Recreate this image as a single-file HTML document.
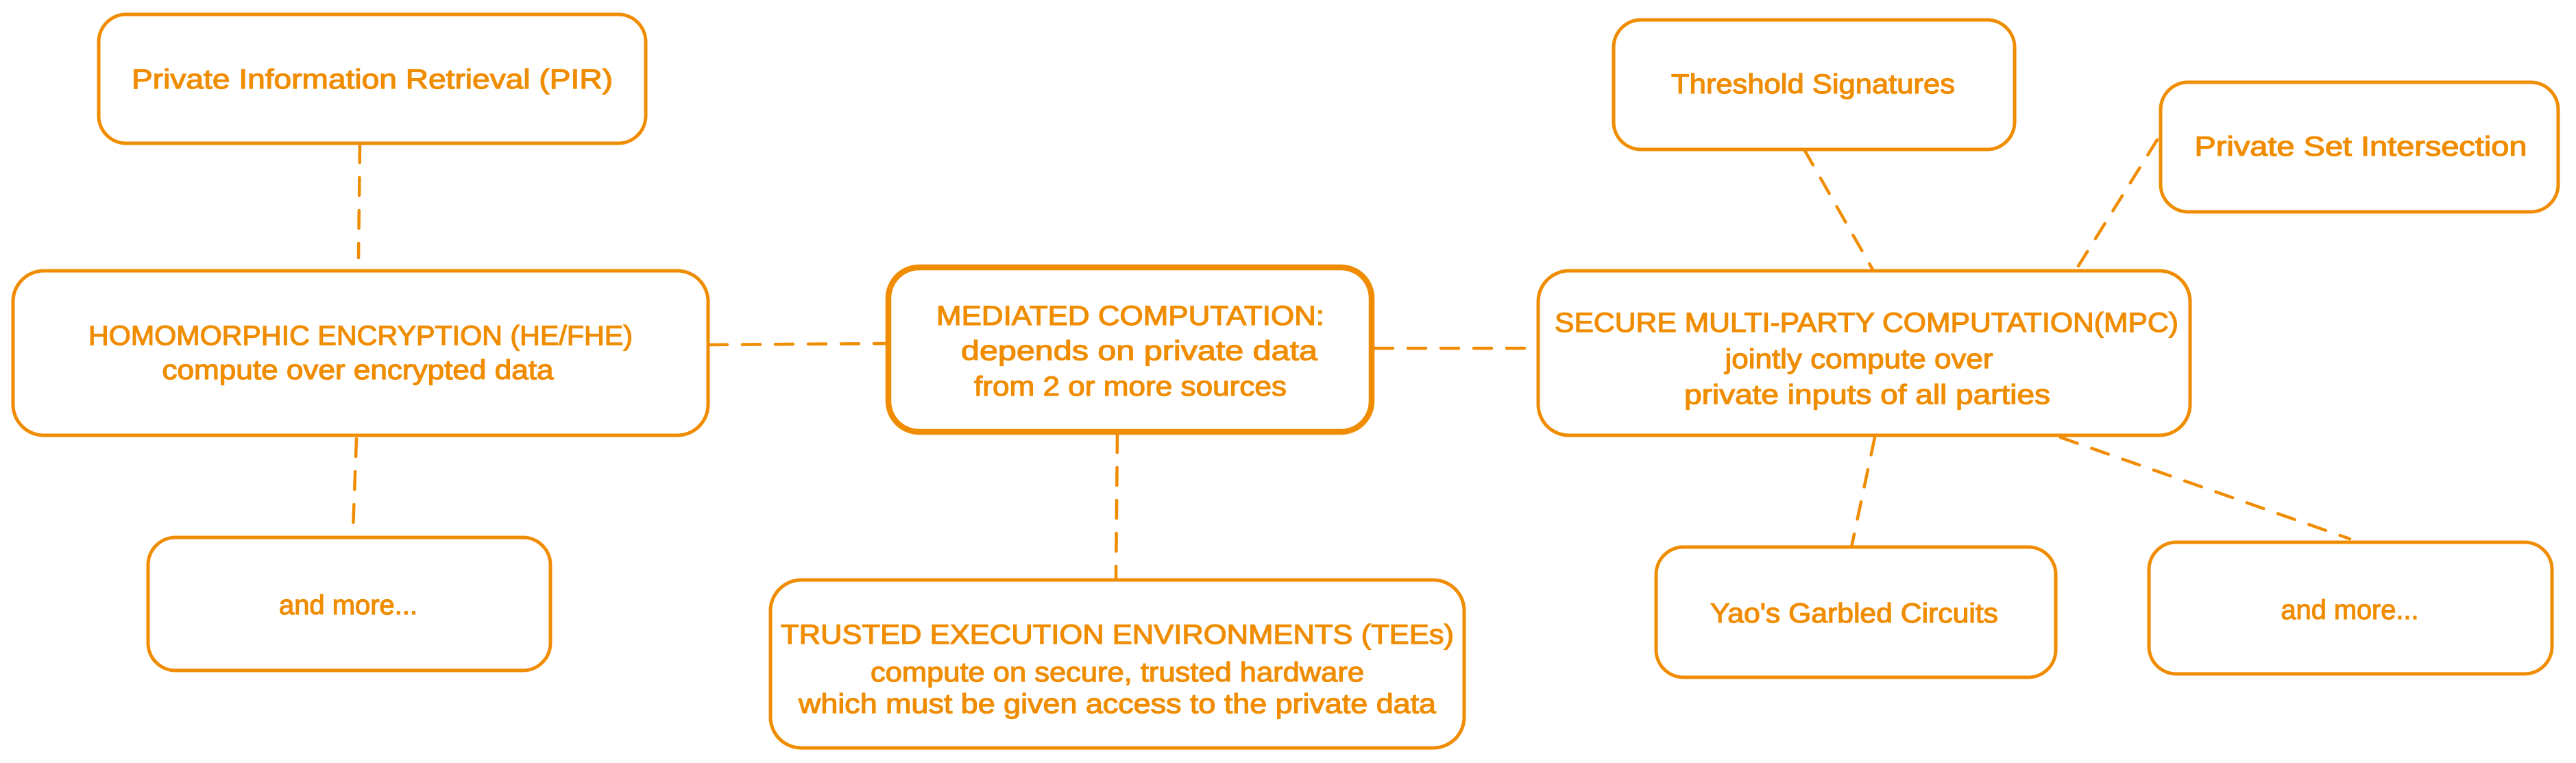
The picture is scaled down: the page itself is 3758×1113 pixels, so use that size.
<!DOCTYPE html>
<html><head><meta charset="utf-8"><style>html,body{margin:0;padding:0;background:#fff}svg{display:block}</style></head>
<body>
<svg width="3758" height="1113" viewBox="0 0 3758 1113" xmlns="http://www.w3.org/2000/svg">
<rect width="3758" height="1113" fill="#fff"/>
<g fill="none" stroke="#f08c00" stroke-width="5" stroke-linecap="round">
<rect x="144" y="21" width="798" height="188" rx="40"/>
<rect x="19" y="395" width="1014" height="240" rx="45"/>
<rect x="216" y="784" width="587" height="194" rx="40"/>
<rect x="1124" y="846" width="1012" height="245" rx="45"/>
<rect x="2354" y="29" width="585" height="189" rx="40"/>
<rect x="3152" y="120" width="580" height="189" rx="40"/>
<rect x="2244" y="395" width="951" height="240" rx="45"/>
<rect x="2416" y="798" width="583" height="190" rx="40"/>
<rect x="3135" y="791" width="588" height="192" rx="40"/>
<rect x="1296" y="390" width="705" height="240" rx="45" stroke-width="8.5"/>
<g stroke-dasharray="26 22" stroke-width="4.5">
<line x1="525" y1="211" x2="523" y2="376"/>
<line x1="1035" y1="503" x2="1294" y2="501"/>
<line x1="520" y1="640" x2="515" y2="772"/>
<line x1="2006" y1="508" x2="2244" y2="508"/>
<line x1="1630" y1="634" x2="1628" y2="846"/>
<line x1="2632" y1="218" x2="2733" y2="395"/>
<line x1="3147" y1="204" x2="3032" y2="388"/>
<line x1="2735" y1="638" x2="2701" y2="798"/>
<line x1="3006" y1="638" x2="3428" y2="786"/>
</g>
</g>
<g fill="#f08c00" stroke="#f08c00" stroke-width="1.2" font-family="'Liberation Sans', sans-serif" font-size="40" text-anchor="middle">
<text x="543" y="129" textLength="702" lengthAdjust="spacingAndGlyphs">Private Information Retrieval (PIR)</text>
<text x="526" y="503" textLength="794" lengthAdjust="spacingAndGlyphs">HOMOMORPHIC ENCRYPTION (HE/FHE)</text>
<text x="522" y="553" textLength="571" lengthAdjust="spacingAndGlyphs">compute over encrypted data</text>
<text x="508" y="896" textLength="202" lengthAdjust="spacingAndGlyphs">and more...</text>
<text x="1649" y="474" textLength="566" lengthAdjust="spacingAndGlyphs">MEDIATED COMPUTATION:</text>
<text x="1662" y="525" textLength="520" lengthAdjust="spacingAndGlyphs">depends on private data</text>
<text x="1649" y="577" textLength="456" lengthAdjust="spacingAndGlyphs">from 2 or more sources</text>
<text x="1630" y="939" textLength="982" lengthAdjust="spacingAndGlyphs">TRUSTED EXECUTION ENVIRONMENTS (TEEs)</text>
<text x="1630" y="994" textLength="720" lengthAdjust="spacingAndGlyphs">compute on secure, trusted hardware</text>
<text x="1630" y="1040" textLength="930" lengthAdjust="spacingAndGlyphs">which must be given access to the private data</text>
<text x="2645" y="136" textLength="414" lengthAdjust="spacingAndGlyphs">Threshold Signatures</text>
<text x="3444" y="227" textLength="485" lengthAdjust="spacingAndGlyphs">Private Set Intersection</text>
<text x="2723" y="484" textLength="910" lengthAdjust="spacingAndGlyphs">SECURE MULTI-PARTY COMPUTATION(MPC)</text>
<text x="2712" y="537" textLength="391" lengthAdjust="spacingAndGlyphs">jointly compute over</text>
<text x="2724" y="589" textLength="534" lengthAdjust="spacingAndGlyphs">private inputs of all parties</text>
<text x="2705" y="908" textLength="420" lengthAdjust="spacingAndGlyphs">Yao's Garbled Circuits</text>
<text x="3428" y="903" textLength="201" lengthAdjust="spacingAndGlyphs">and more...</text>
</g>
</svg>
</body></html>
